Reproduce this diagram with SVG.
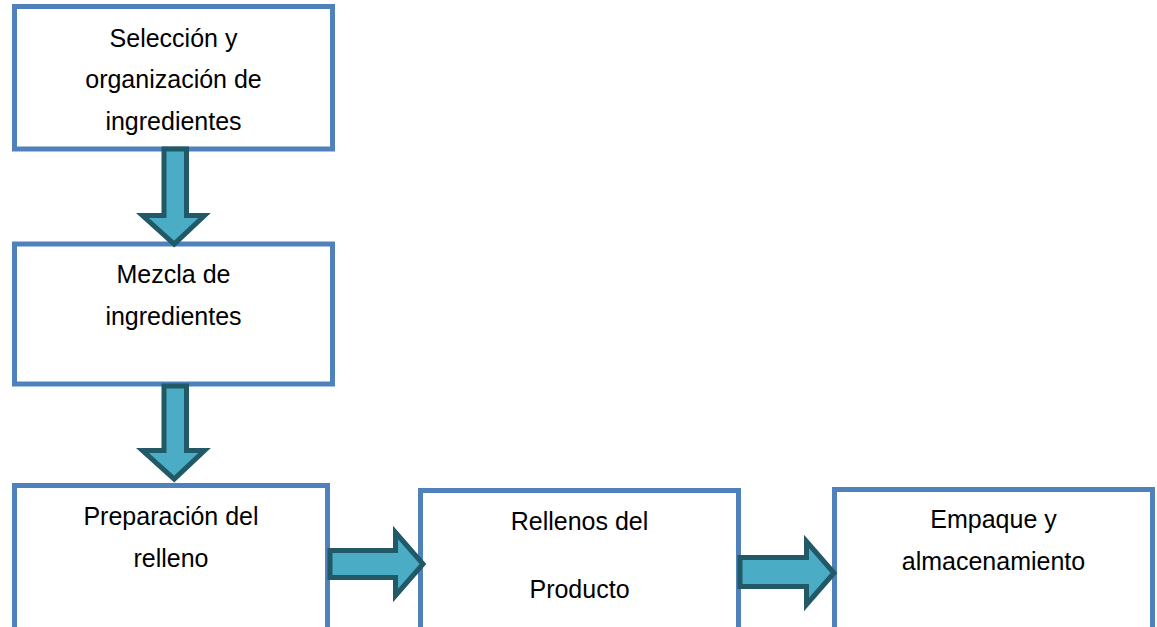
<svg xmlns="http://www.w3.org/2000/svg" width="1157" height="627" viewBox="0 0 1157 627">
  <style>
    .box { fill: #ffffff; stroke: #4F81BD; stroke-width: 5; }
    .arrow { fill: #4BACC6; stroke: #215967; stroke-width: 5; stroke-linejoin: miter; }
    .label { font-family: "Liberation Sans", Arial, sans-serif; font-size: 25px; fill: #000000; text-anchor: middle; }
  </style>
  <rect width="1157" height="627" fill="#ffffff"/>
  <g id="node1">
    <rect class="box" x="14.5" y="6.5" width="318" height="142.5"/>
    <text class="label" x="173.5" y="47">Selección y</text>
    <text class="label" x="173.5" y="88">organización de</text>
    <text class="label" x="173.5" y="130">ingredientes</text>
  </g>
  <g id="node2">
    <rect class="box" x="14.5" y="244" width="318" height="140"/>
    <text class="label" x="173.5" y="283">Mezcla de</text>
    <text class="label" x="173.5" y="325">ingredientes</text>
  </g>
  <g id="node3">
    <rect class="box" x="14.5" y="485.5" width="313" height="160"/>
    <text class="label" x="171" y="525">Preparación del</text>
    <text class="label" x="171" y="567">relleno</text>
  </g>
  <g id="node4">
    <rect class="box" x="420.5" y="490.5" width="318" height="160"/>
    <text class="label" x="579.5" y="530">Rellenos del</text>
    <text class="label" x="579.5" y="598">Producto</text>
  </g>
  <g id="node5">
    <rect class="box" x="834.5" y="489.5" width="318" height="160"/>
    <text class="label" x="993.5" y="528">Empaque y</text>
    <text class="label" x="993.5" y="570">almacenamiento</text>
  </g>
  <g id="connectors">
    <path class="arrow" d="M164,149 L186.5,149 L186.5,215.5 L204.5,215.5 L174.2,244 L142.5,215.5 L164,215.5 Z"/>
    <path class="arrow" d="M164,386 L186.5,386 L186.5,450.5 L204.5,450.5 L174.2,479 L142.5,450.5 L164,450.5 Z"/>
    <path class="arrow" d="M330,550.5 L395.5,550.5 L395.5,532.5 L423,564 L395.5,595.5 L395.5,577.5 L330,577.5 Z"/>
    <path class="arrow" d="M740,557.5 L806.5,557.5 L806.5,541.5 L834,573 L806.5,604.5 L806.5,586.5 L740,586.5 Z"/>
  </g>
</svg>
